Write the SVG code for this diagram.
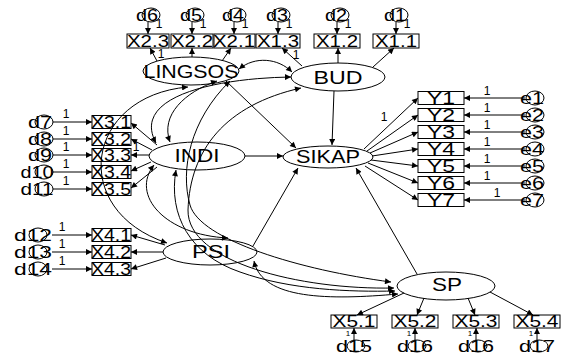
<svg xmlns="http://www.w3.org/2000/svg" width="564" height="356" viewBox="0 0 564 356">
<style>
.ln{stroke:#000;stroke-width:1;fill:none}
.a{marker-end:url(#ah)}
.c{marker-start:url(#ah);marker-end:url(#ah)}
.bx{fill:none;stroke:#000;stroke-width:1}
.el{fill:none;stroke:#000;stroke-width:1}
text{font-family:"Liberation Sans",Arial,sans-serif;fill:#000;text-anchor:middle}
.lt{font-size:18px}
.bt{font-size:16px}
.dt{font-size:16px}
.one{font-size:12px}
.sm{font-size:8px}
</style>
<defs>
<marker id="ah" viewBox="0 0 10 10" refX="10" refY="5" markerWidth="9" markerHeight="6" markerUnits="userSpaceOnUse" orient="auto-start-reverse">
<path d="M0,0 L10,5 L0,10 z" fill="#000"/>
</marker>
</defs>
<rect width="564" height="356" fill="#fff"/>

<g id="connectors">
<path class="ln a" d="M226,81 L296,148"/>
<path class="ln a" d="M334,91 L332,145"/>
<path class="ln a" d="M245,156 L283,156"/>
<path class="ln a" d="M253,246 L298,168"/>
<path class="ln a" d="M417,274 L356,168"/>
<path class="ln a" d="M157,61 L150,48"/>
<path class="ln a" d="M192,57 L192,48"/>
<path class="ln a" d="M222,61 L231,48"/>
<path class="ln a" d="M302,66 L282,48"/>
<path class="ln a" d="M338,63 L338,48"/>
<path class="ln a" d="M373,67 L394,48"/>
<path class="ln a" d="M364,149 L418,98"/>
<path class="ln a" d="M367,151 L418,115"/>
<path class="ln a" d="M370,153 L418,132"/>
<path class="ln a" d="M372,156 L418,149"/>
<path class="ln a" d="M371,160 L418,166"/>
<path class="ln a" d="M368,163 L418,183"/>
<path class="ln a" d="M365,166 L418,200"/>
<path class="ln a" d="M157,145 L131,123"/>
<path class="ln a" d="M152,150 L131,139"/>
<path class="ln a" d="M149,155 L131,155"/>
<path class="ln a" d="M151,162 L131,171"/>
<path class="ln a" d="M157,167 L131,188"/>
<path class="ln a" d="M165,245 L131,235"/>
<path class="ln a" d="M163,252 L131,252"/>
<path class="ln a" d="M166,258 L131,269"/>
<path class="ln a" d="M404,293 L357,315"/>
<path class="ln a" d="M424,298 L417,315"/>
<path class="ln a" d="M468,298 L475,315"/>
<path class="ln a" d="M490,292 L533,315"/>
<path class="ln a" d="M148,22 L148,34"/>
<path class="ln a" d="M192,22 L192,34"/>
<path class="ln a" d="M234,22 L234,34"/>
<path class="ln a" d="M278,22 L278,34"/>
<path class="ln a" d="M337,22 L337,34"/>
<path class="ln a" d="M396,22 L396,34"/>
<path class="ln a" d="M525,98 L464,98"/>
<path class="ln a" d="M525,115 L464,115"/>
<path class="ln a" d="M525,132 L464,132"/>
<path class="ln a" d="M525,149 L464,149"/>
<path class="ln a" d="M525,166 L464,166"/>
<path class="ln a" d="M525,183 L464,183"/>
<path class="ln a" d="M525,200 L464,200"/>
<path class="ln a" d="M53,122 L92,122"/>
<path class="ln a" d="M53,139 L92,139"/>
<path class="ln a" d="M53,155 L92,155"/>
<path class="ln a" d="M53,172 L92,172"/>
<path class="ln a" d="M53,189 L92,189"/>
<path class="ln a" d="M52,235 L92,235"/>
<path class="ln a" d="M52,252 L92,252"/>
<path class="ln a" d="M52,269 L92,269"/>
<path class="ln a" d="M354,340 L354,328"/>
<path class="ln a" d="M415,340 L415,328"/>
<path class="ln a" d="M476,340 L476,328"/>
<path class="ln a" d="M537,340 L537,328"/>
<path class="ln c" d="M239,69 C255,56 278,58 292,72"/>
<path class="ln c" d="M217,81 C185,92 160,115 170,142"/>
<path class="ln c" d="M156,143 C130,95 220,78 291,77"/>
<path class="ln c" d="M188,87 C85,96 68,210 167,243"/>
<path class="ln c" d="M230,81 C190,120 180,170 190,205 C200,240 300,270 391,282"/>
<path class="ln c" d="M301,88 C225,105 190,150 188,210 C187,262 300,290 394,288"/>
<path class="ln c" d="M176,170 C168,215 190,255 240,272 C290,290 350,292 395,291"/>
<path class="ln c" d="M154,165 C130,195 165,235 228,238"/>
<path class="ln c" d="M254,261 C262,300 330,300 398,294"/>
</g>

<g id="LINGSOS"><ellipse class="el" cx="191" cy="71" rx="48" ry="14"/><text class="lt" x="191" y="78" textLength="95" lengthAdjust="spacingAndGlyphs">LINGSOS</text></g>
<g id="BUD"><ellipse class="el" cx="338" cy="77" rx="47" ry="14"/><text class="lt" x="338" y="84" textLength="49" lengthAdjust="spacingAndGlyphs">BUD</text></g>
<g id="INDI"><ellipse class="el" cx="197" cy="156" rx="48" ry="14"/><text class="lt" x="197" y="162" textLength="45" lengthAdjust="spacingAndGlyphs">INDI</text></g>
<g id="SIKAP"><ellipse class="el" cx="328" cy="157" rx="45" ry="11"/><text class="lt" x="328" y="163" textLength="64" lengthAdjust="spacingAndGlyphs">SIKAP</text></g>
<g id="PSI"><ellipse class="el" cx="210" cy="252" rx="47" ry="13"/><text class="lt" x="211" y="258" textLength="38" lengthAdjust="spacingAndGlyphs">PSI</text></g>
<g id="SP"><ellipse class="el" cx="446" cy="286" rx="49" ry="14"/><text class="lt" x="447" y="291" textLength="30" lengthAdjust="spacingAndGlyphs">SP</text></g>

<g id="X2.3"><rect class="bx" x="127" y="34" width="42" height="14"/><text class="bt" x="148" y="47" textLength="42" lengthAdjust="spacingAndGlyphs">X2.3</text></g>
<g id="X2.2"><rect class="bx" x="171" y="34" width="42" height="14"/><text class="bt" x="192" y="47" textLength="42" lengthAdjust="spacingAndGlyphs">X2.2</text></g>
<g id="X2.1"><rect class="bx" x="214" y="34" width="41" height="14"/><text class="bt" x="234" y="47" textLength="42" lengthAdjust="spacingAndGlyphs">X2.1</text></g>
<g id="X1.3"><rect class="bx" x="256" y="34" width="44" height="14"/><text class="bt" x="278" y="47" textLength="42" lengthAdjust="spacingAndGlyphs">X1.3</text></g>
<g id="X1.2"><rect class="bx" x="314" y="34" width="46" height="14"/><text class="bt" x="337" y="47" textLength="42" lengthAdjust="spacingAndGlyphs">X1.2</text></g>
<g id="X1.1"><rect class="bx" x="373" y="34" width="46" height="14"/><text class="bt" x="396" y="47" textLength="42" lengthAdjust="spacingAndGlyphs">X1.1</text></g>

<g id="d6"><ellipse class="el" cx="151" cy="15" rx="9" ry="7"/><text class="dt" x="147" y="21" textLength="22" lengthAdjust="spacingAndGlyphs">d6</text><text class="one" x="159" y="28">1</text></g>
<g id="d5"><ellipse class="el" cx="195" cy="15" rx="9" ry="7"/><text class="dt" x="191" y="21" textLength="22" lengthAdjust="spacingAndGlyphs">d5</text><text class="one" x="203" y="28">1</text></g>
<g id="d4"><ellipse class="el" cx="237" cy="15" rx="9" ry="7"/><text class="dt" x="233" y="21" textLength="22" lengthAdjust="spacingAndGlyphs">d4</text><text class="one" x="245" y="28">1</text></g>
<g id="d3"><ellipse class="el" cx="281" cy="15" rx="9" ry="7"/><text class="dt" x="277" y="21" textLength="22" lengthAdjust="spacingAndGlyphs">d3</text><text class="one" x="289" y="28">1</text></g>
<g id="d2"><ellipse class="el" cx="340" cy="15" rx="9" ry="7"/><text class="dt" x="336" y="21" textLength="22" lengthAdjust="spacingAndGlyphs">d2</text><text class="one" x="348" y="28">1</text></g>
<g id="d1"><ellipse class="el" cx="399" cy="15" rx="9" ry="7"/><text class="dt" x="395" y="21" textLength="22" lengthAdjust="spacingAndGlyphs">d1</text><text class="one" x="407" y="28">1</text></g>

<g id="Y1"><rect class="bx" x="418" y="91.5" width="46" height="13"/><text class="bt" x="441" y="104" textLength="28" lengthAdjust="spacingAndGlyphs">Y1</text></g>
<g id="Y2"><rect class="bx" x="418" y="108.5" width="46" height="13"/><text class="bt" x="441" y="121" textLength="28" lengthAdjust="spacingAndGlyphs">Y2</text></g>
<g id="Y3"><rect class="bx" x="418" y="125.5" width="46" height="13"/><text class="bt" x="441" y="138" textLength="28" lengthAdjust="spacingAndGlyphs">Y3</text></g>
<g id="Y4"><rect class="bx" x="418" y="142.5" width="46" height="13"/><text class="bt" x="441" y="155" textLength="28" lengthAdjust="spacingAndGlyphs">Y4</text></g>
<g id="Y5"><rect class="bx" x="418" y="159.5" width="46" height="13"/><text class="bt" x="441" y="172" textLength="28" lengthAdjust="spacingAndGlyphs">Y5</text></g>
<g id="Y6"><rect class="bx" x="418" y="176.5" width="46" height="13"/><text class="bt" x="441" y="189" textLength="28" lengthAdjust="spacingAndGlyphs">Y6</text></g>
<g id="Y7"><rect class="bx" x="418" y="193.5" width="46" height="13"/><text class="bt" x="441" y="206" textLength="28" lengthAdjust="spacingAndGlyphs">Y7</text></g>

<g id="e1"><ellipse class="el" cx="535" cy="98" rx="9" ry="7"/><text class="dt" x="532" y="104" textLength="24" lengthAdjust="spacingAndGlyphs">e1</text><text class="one" x="487" y="95">1</text></g>
<g id="e2"><ellipse class="el" cx="535" cy="115" rx="9" ry="7"/><text class="dt" x="532" y="121" textLength="24" lengthAdjust="spacingAndGlyphs">e2</text><text class="one" x="487" y="112">1</text></g>
<g id="e3"><ellipse class="el" cx="535" cy="132" rx="9" ry="7"/><text class="dt" x="532" y="138" textLength="24" lengthAdjust="spacingAndGlyphs">e3</text><text class="one" x="487" y="129">1</text></g>
<g id="e4"><ellipse class="el" cx="535" cy="149" rx="9" ry="7"/><text class="dt" x="532" y="155" textLength="24" lengthAdjust="spacingAndGlyphs">e4</text><text class="one" x="487" y="146">1</text></g>
<g id="e5"><ellipse class="el" cx="535" cy="166" rx="9" ry="7"/><text class="dt" x="532" y="172" textLength="24" lengthAdjust="spacingAndGlyphs">e5</text><text class="one" x="487" y="163">1</text></g>
<g id="e6"><ellipse class="el" cx="535" cy="183" rx="9" ry="7"/><text class="dt" x="532" y="189" textLength="24" lengthAdjust="spacingAndGlyphs">e6</text><text class="one" x="487" y="180">1</text></g>
<g id="e7"><ellipse class="el" cx="535" cy="200" rx="9" ry="7"/><text class="dt" x="532" y="206" textLength="24" lengthAdjust="spacingAndGlyphs">e7</text><text class="one" x="497" y="197">1</text></g>

<g id="X3.1"><rect class="bx" x="92" y="115.5" width="39" height="13"/><text class="bt" x="111" y="128" textLength="40" lengthAdjust="spacingAndGlyphs">X3.1</text></g>
<g id="X3.2"><rect class="bx" x="92" y="132.5" width="39" height="13"/><text class="bt" x="111" y="145" textLength="40" lengthAdjust="spacingAndGlyphs">X3.2</text></g>
<g id="X3.3"><rect class="bx" x="92" y="148.5" width="39" height="13"/><text class="bt" x="111" y="161" textLength="40" lengthAdjust="spacingAndGlyphs">X3.3</text></g>
<g id="X3.4"><rect class="bx" x="92" y="165.5" width="39" height="13"/><text class="bt" x="111" y="178" textLength="40" lengthAdjust="spacingAndGlyphs">X3.4</text></g>
<g id="X3.5"><rect class="bx" x="92" y="182.5" width="39" height="13"/><text class="bt" x="111" y="195" textLength="40" lengthAdjust="spacingAndGlyphs">X3.5</text></g>

<g id="d7"><ellipse class="el" cx="44" cy="122" rx="9" ry="7"/><text class="dt" x="40" y="128" textLength="24" lengthAdjust="spacingAndGlyphs">d7</text><text class="one" x="66" y="118">1</text></g>
<g id="d8"><ellipse class="el" cx="44" cy="139" rx="9" ry="7"/><text class="dt" x="40" y="145" textLength="24" lengthAdjust="spacingAndGlyphs">d8</text><text class="one" x="66" y="135">1</text></g>
<g id="d9"><ellipse class="el" cx="44" cy="155" rx="9" ry="7"/><text class="dt" x="40" y="161" textLength="24" lengthAdjust="spacingAndGlyphs">d9</text><text class="one" x="66" y="151">1</text></g>
<g id="d10"><ellipse class="el" cx="44" cy="172" rx="9" ry="7"/><text class="dt" x="37" y="178" textLength="33" lengthAdjust="spacingAndGlyphs">d10</text><text class="one" x="66" y="168">1</text></g>
<g id="d11"><ellipse class="el" cx="44" cy="189" rx="9" ry="7"/><text class="dt" x="37" y="195" textLength="33" lengthAdjust="spacingAndGlyphs">d11</text><text class="one" x="66" y="185">1</text></g>

<g id="X4.1"><rect class="bx" x="92" y="228.5" width="39" height="13"/><text class="bt" x="111" y="241" textLength="40" lengthAdjust="spacingAndGlyphs">X4.1</text></g>
<g id="X4.2"><rect class="bx" x="92" y="245.5" width="39" height="13"/><text class="bt" x="111" y="258" textLength="40" lengthAdjust="spacingAndGlyphs">X4.2</text></g>
<g id="X4.3"><rect class="bx" x="92" y="262.5" width="39" height="13"/><text class="bt" x="111" y="275" textLength="40" lengthAdjust="spacingAndGlyphs">X4.3</text></g>

<g id="d12"><ellipse class="el" cx="38" cy="235" rx="9" ry="7"/><text class="dt" x="33" y="241" textLength="38" lengthAdjust="spacingAndGlyphs">d12</text><text class="one" x="62" y="231">1</text></g>
<g id="d13"><ellipse class="el" cx="38" cy="252" rx="9" ry="7"/><text class="dt" x="33" y="258" textLength="38" lengthAdjust="spacingAndGlyphs">d13</text><text class="one" x="62" y="248">1</text></g>
<g id="d14"><ellipse class="el" cx="38" cy="269" rx="9" ry="7"/><text class="dt" x="33" y="275" textLength="38" lengthAdjust="spacingAndGlyphs">d14</text><text class="one" x="62" y="265">1</text></g>

<g id="X5.1"><rect class="bx" x="331" y="315" width="46" height="13"/><text class="bt" x="354" y="327" textLength="43" lengthAdjust="spacingAndGlyphs">X5.1</text></g>
<g id="X5.2"><rect class="bx" x="392" y="315" width="46" height="13"/><text class="bt" x="415" y="327" textLength="43" lengthAdjust="spacingAndGlyphs">X5.2</text></g>
<g id="X5.3"><rect class="bx" x="453" y="315" width="46" height="13"/><text class="bt" x="476" y="327" textLength="43" lengthAdjust="spacingAndGlyphs">X5.3</text></g>
<g id="X5.4"><rect class="bx" x="514" y="315" width="46" height="13"/><text class="bt" x="537" y="327" textLength="43" lengthAdjust="spacingAndGlyphs">X5.4</text></g>

<g id="d15"><ellipse class="el" cx="356" cy="346" rx="9" ry="6"/><text class="dt" x="354" y="352" font-size="15" textLength="36" lengthAdjust="spacingAndGlyphs">d15</text><text class="sm" x="348" y="336">1</text></g>
<g id="d16a"><ellipse class="el" cx="417" cy="346" rx="9" ry="6"/><text class="dt" x="415" y="352" font-size="15" textLength="36" lengthAdjust="spacingAndGlyphs">d16</text><text class="sm" x="409" y="336">1</text></g>
<g id="d16b"><ellipse class="el" cx="478" cy="346" rx="9" ry="6"/><text class="dt" x="476" y="352" font-size="15" textLength="36" lengthAdjust="spacingAndGlyphs">d16</text><text class="sm" x="470" y="336">1</text></g>
<g id="d17"><ellipse class="el" cx="539" cy="346" rx="9" ry="6"/><text class="dt" x="537" y="352" font-size="15" textLength="36" lengthAdjust="spacingAndGlyphs">d17</text><text class="sm" x="531" y="336">1</text></g>

<g id="weights">
<text class="one" x="161" y="58">1</text>
<text class="one" x="296" y="59">1</text>
<text class="one" x="384" y="121">1</text>
<text class="one" x="136" y="151">1</text>
</g>
</svg>
